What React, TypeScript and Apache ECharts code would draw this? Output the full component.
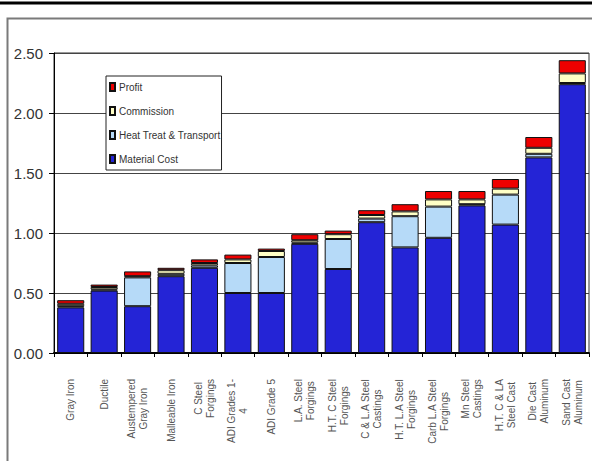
import React, { useEffect, useRef } from "react";
import * as echarts from "echarts";

// Cost breakdown per casting / forging process ($ per unit)
const categories = [
  "Gray Iron",
  "Ductile",
  "Austempered\nGray Iron",
  "Malleable Iron",
  "C Steel\nForgings",
  "ADI Grades 1-\n4",
  "ADI Grade 5",
  "L.A. Steel\nForgings",
  "H.T. C Steel\nForgings",
  "C & L.A Steel\nCastings",
  "H.T. L.A Steel\nForgings",
  "Carb L.A Steel\nForgings",
  "Mn Steel\nCastings",
  "H.T. C & LA\nSteel Cast",
  "Die Cast\nAluminum",
  "Sand Cast\nAluminum",
];

const materialCost = [0.38, 0.52, 0.39, 0.64, 0.71, 0.5, 0.5, 0.91, 0.7, 1.09, 0.88, 0.96, 1.23, 1.07, 1.63, 2.24];
const heatTreatTransport = [0.01, 0.01, 0.24, 0.02, 0.02, 0.25, 0.3, 0.01, 0.25, 0.03, 0.26, 0.26, 0.01, 0.25, 0.03, 0.01];
const commission = [0.02, 0.02, 0.01, 0.03, 0.02, 0.03, 0.05, 0.02, 0.04, 0.03, 0.04, 0.06, 0.04, 0.05, 0.05, 0.08];
const profit = [0.03, 0.02, 0.04, 0.02, 0.03, 0.04, 0.02, 0.05, 0.03, 0.04, 0.06, 0.07, 0.07, 0.08, 0.09, 0.11];

const yTicks = [0, 0.5, 1, 1.5, 2, 2.5];

const FONT = "'Liberation Sans', Arial, sans-serif";

export default function App() {
  const ref = useRef<HTMLDivElement>(null);

  useEffect(() => {
    if (!ref.current) return;
    const chart = echarts.init(ref.current, undefined, { renderer: "svg" });

    const seriesDefs = [
      { name: "Material Cost", data: materialCost, color: "#2424d6" },
      { name: "Heat Treat & Transport", data: heatTreatTransport, color: "#b6daf8" },
      { name: "Commission", data: commission, color: "#ffffc6" },
      { name: "Profit", data: profit, color: "#ee0000" },
    ];

    chart.setOption({
      animation: false,
      backgroundColor: "#ffffff",
      textStyle: { fontFamily: FONT },
      graphic: [
        {
          type: "line",
          shape: { x1: 0, y1: 3, x2: 592, y2: 3 },
          style: { stroke: "#000", lineWidth: 3 },
        },
        {
          type: "polyline",
          shape: { points: [[7.5, 461], [7.5, 18.5], [592, 18.5]] },
          style: { stroke: "#7a7a7a", lineWidth: 2, fill: "none" },
        },
      ],
      grid: {
        left: 54,
        top: 53,
        right: 3,
        bottom: 108,
        show: true,
        borderColor: "#333",
        borderWidth: 1,
        backgroundColor: "transparent",
      },
      legend: {
        data: ["Profit", "Commission", "Heat Treat & Transport", "Material Cost"],
        orient: "vertical",
        left: 106,
        top: 76,
        itemWidth: 5,
        itemHeight: 8,
        itemGap: 14,
        padding: [6, 1, 6, 3],
        backgroundColor: "#fff",
        borderColor: "#222",
        borderWidth: 1,
        icon: "rect",
        textStyle: { fontSize: 10, color: "#333", fontFamily: FONT, padding: [0, 0, 0, -1] },
        z: 10,
      },
      xAxis: {
        type: "category",
        data: categories,
        axisLine: { lineStyle: { color: "#000", width: 2 } },
        axisTick: { show: true, length: 4, lineStyle: { color: "#000" } },
        axisLabel: {
          rotate: 90,
          margin: 26,
          interval: 0,
          formatter: (v: string) =>
            v
              .split("\n")
              .map((l) => `{c|${l}}`)
              .join("\n"),
          rich: {
            c: { align: "center", fontSize: 10, color: "#555", fontFamily: FONT, lineHeight: 12 },
          },
        },
      },
      yAxis: {
        type: "value",
        min: yTicks[0],
        max: yTicks[yTicks.length - 1],
        interval: 0.5,
        axisLine: { show: true, lineStyle: { color: "#000", width: 1 } },
        axisTick: { show: true, length: 5, lineStyle: { color: "#000" } },
        axisLabel: {
          formatter: (v: number) => v.toFixed(2),
          fontSize: 15,
          color: "#333",
          fontFamily: FONT,
          margin: 11,
        },
        splitLine: { show: true, lineStyle: { color: "#444", width: 1 } },
      },
      series: seriesDefs.map((s) => ({
        name: s.name,
        type: "bar",
        stack: "cost",
        data: s.data,
        barCategoryGap: "19%",
        itemStyle: { color: s.color, borderColor: "#111", borderWidth: 1 },
      })),
    });

    return () => chart.dispose();
  }, []);

  return (
    <div
      ref={ref}
      style={{ position: "absolute", left: 0, top: 0, width: 592, height: 461 }}
    />
  );
}
